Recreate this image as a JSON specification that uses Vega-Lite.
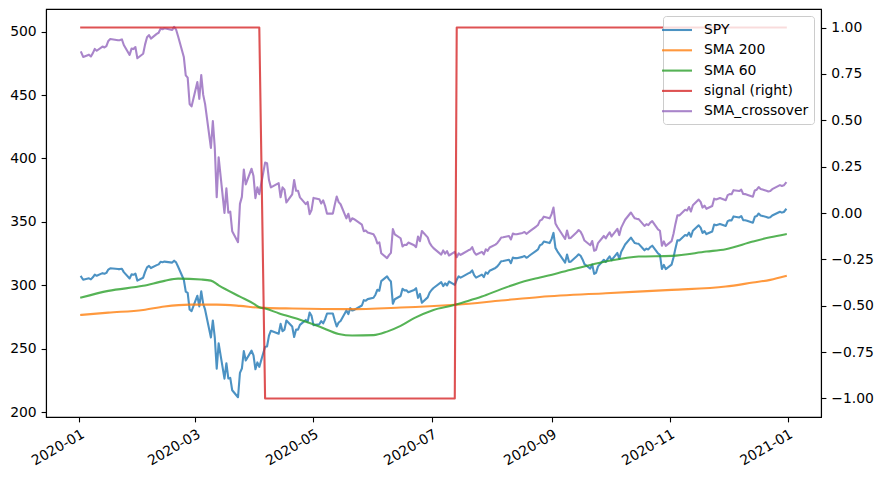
{
  "$schema": "https://vega.github.io/schema/vega-lite/v6.json",
  "width": 775,
  "height": 408,
  "autosize": {"type": "none"},
  "padding": {"left": 46, "top": 9, "right": 62, "bottom": 61},
  "background": "white",
  "config": {
    "view": {"stroke": "black", "strokeWidth": 1.1},
    "font": "DejaVu Sans",
    "axis": {"grid": false, "domainColor": "black", "domainWidth": 1.1, "tickColor": "black", "tickWidth": 1.1, "tickSize": 4.9, "labelFont": "DejaVu Sans", "labelFontSize": 13.9, "labelColor": "black", "labelPadding": 4.9, "title": null},
    "line": {"strokeWidth": 2.1, "opacity": 0.8, "strokeJoin": "round", "strokeCap": "square"}
  },
  "datasets": {
    "spy": [
      {"date":"2020-01-02","spy":306.7,"xover":483.6},{"date":"2020-01-03","spy":304.4,"xover":480.0},{"date":"2020-01-06","spy":305.5,"xover":481.8},{"date":"2020-01-07","spy":304.7,"xover":480.4},{"date":"2020-01-08","spy":306.3,"xover":483.0},{"date":"2020-01-09","spy":308.4,"xover":486.3},{"date":"2020-01-10","spy":307.5,"xover":484.9},{"date":"2020-01-13","spy":309.6,"xover":488.2},{"date":"2020-01-14","spy":309.1,"xover":487.5},{"date":"2020-01-15","spy":309.8,"xover":488.6},{"date":"2020-01-16","spy":312.4,"xover":492.6},{"date":"2020-01-17","spy":313.4,"xover":494.2},{"date":"2020-01-21","spy":312.8,"xover":493.2},{"date":"2020-01-22","spy":312.8,"xover":493.3},{"date":"2020-01-23","spy":313.1,"xover":493.8},{"date":"2020-01-24","spy":310.4,"xover":489.4},{"date":"2020-01-27","spy":305.4,"xover":481.6},{"date":"2020-01-28","spy":308.6,"xover":486.6},{"date":"2020-01-29","spy":308.3,"xover":486.2},{"date":"2020-01-30","spy":309.3,"xover":487.8},{"date":"2020-01-31","spy":303.7,"xover":479.0},
      {"date":"2020-02-03","spy":306.0,"xover":482.5},{"date":"2020-02-04","spy":310.6,"xover":489.9},{"date":"2020-02-05","spy":314.2,"xover":495.5},{"date":"2020-02-06","spy":315.3,"xover":497.2},{"date":"2020-02-07","spy":313.6,"xover":494.5},{"date":"2020-02-10","spy":315.9,"xover":498.2},{"date":"2020-02-11","spy":316.5,"xover":499.1},{"date":"2020-02-12","spy":318.5,"xover":502.3},{"date":"2020-02-13","spy":318.2,"xover":501.8},{"date":"2020-02-14","spy":318.7,"xover":502.6},{"date":"2020-02-18","spy":317.9,"xover":501.3},{"date":"2020-02-19","spy":319.4,"xover":503.7},{"date":"2020-02-20","spy":318.1,"xover":501.6},{"date":"2020-02-21","spy":314.8,"xover":496.5},{"date":"2020-02-24","spy":304.4,"xover":480.0},{"date":"2020-02-25","spy":295.1,"xover":465.5},{"date":"2020-02-26","spy":294.1,"xover":463.7},{"date":"2020-02-27","spy":280.9,"xover":442.9},{"date":"2020-02-28","spy":279.7,"xover":441.0},
      {"date":"2020-03-02","spy":291.8,"xover":460.2},{"date":"2020-03-03","spy":283.4,"xover":447.0},{"date":"2020-03-04","spy":295.3,"xover":465.8},{"date":"2020-03-05","spy":285.5,"xover":450.3},{"date":"2020-03-06","spy":280.8,"xover":442.8},{"date":"2020-03-09","spy":258.9,"xover":408.3},{"date":"2020-03-10","spy":272.3,"xover":429.4},{"date":"2020-03-11","spy":259.0,"xover":408.4},{"date":"2020-03-12","spy":234.2,"xover":369.4},{"date":"2020-03-13","spy":254.2,"xover":400.9},{"date":"2020-03-16","spy":226.4,"xover":357.1},{"date":"2020-03-17","spy":238.6,"xover":376.4},{"date":"2020-03-18","spy":226.6,"xover":357.3},{"date":"2020-03-19","spy":227.0,"xover":358.1},{"date":"2020-03-20","spy":217.3,"xover":342.7},{"date":"2020-03-23","spy":211.8,"xover":334.0},{"date":"2020-03-24","spy":231.0,"xover":364.2},{"date":"2020-03-25","spy":234.4,"xover":369.7},{"date":"2020-03-26","spy":248.1,"xover":391.3},{"date":"2020-03-27","spy":240.7,"xover":379.6},{"date":"2020-03-30","spy":248.5,"xover":391.9},{"date":"2020-03-31","spy":244.8,"xover":386.1},
      {"date":"2020-04-01","spy":233.8,"xover":368.7},{"date":"2020-04-02","spy":239.2,"xover":377.2},{"date":"2020-04-03","spy":235.7,"xover":371.8},{"date":"2020-04-06","spy":251.6,"xover":396.7},{"date":"2020-04-07","spy":251.8,"xover":396.3},{"date":"2020-04-08","spy":260.3,"xover":383.0},{"date":"2020-04-09","spy":264.2,"xover":377.2},{"date":"2020-04-13","spy":261.8,"xover":380.6},{"date":"2020-04-14","spy":269.6,"xover":369.4},{"date":"2020-04-15","spy":263.8,"xover":377.2},{"date":"2020-04-16","spy":265.1,"xover":375.4},{"date":"2020-04-17","spy":272.3,"xover":365.3},{"date":"2020-04-20","spy":267.5,"xover":371.7},{"date":"2020-04-21","spy":259.3,"xover":383.0},{"date":"2020-04-22","spy":265.1,"xover":374.5},{"date":"2020-04-23","spy":265.1,"xover":374.5},{"date":"2020-04-24","spy":268.8,"xover":369.3},{"date":"2020-04-27","spy":272.7,"xover":364.0},{"date":"2020-04-28","spy":271.4,"xover":365.7},{"date":"2020-04-29","spy":278.5,"xover":356.1},{"date":"2020-04-30","spy":275.9,"xover":359.4},
      {"date":"2020-05-01","spy":268.6,"xover":368.9},{"date":"2020-05-04","spy":269.3,"xover":367.9},{"date":"2020-05-05","spy":271.8,"xover":364.5},{"date":"2020-05-06","spy":270.0,"xover":367.0},{"date":"2020-05-07","spy":273.3,"xover":362.5},{"date":"2020-05-08","spy":277.8,"xover":356.5},{"date":"2020-05-11","spy":277.8,"xover":356.5},{"date":"2020-05-12","spy":272.3,"xover":363.6},{"date":"2020-05-13","spy":267.5,"xover":370.0},{"date":"2020-05-14","spy":270.7,"xover":365.6},{"date":"2020-05-15","spy":271.9,"xover":363.9},{"date":"2020-05-18","spy":280.2,"xover":352.8},{"date":"2020-05-19","spy":277.3,"xover":356.4},{"date":"2020-05-20","spy":282.0,"xover":350.4},{"date":"2020-05-21","spy":280.1,"xover":352.8},{"date":"2020-05-22","spy":280.6,"xover":352.1},{"date":"2020-05-26","spy":284.1,"xover":347.8},{"date":"2020-05-27","spy":288.3,"xover":342.6},{"date":"2020-05-28","spy":287.8,"xover":343.2},{"date":"2020-05-29","spy":289.1,"xover":341.7},
      {"date":"2020-06-01","spy":290.2,"xover":340.3},{"date":"2020-06-02","spy":292.6,"xover":337.5},{"date":"2020-06-03","spy":296.5,"xover":333.0},{"date":"2020-06-04","spy":295.7,"xover":333.9},{"date":"2020-06-05","spy":303.3,"xover":325.3},{"date":"2020-06-08","spy":307.0,"xover":321.4},{"date":"2020-06-09","spy":304.7,"xover":323.8},{"date":"2020-06-10","spy":303.0,"xover":325.6},{"date":"2020-06-11","spy":285.5,"xover":344.4},{"date":"2020-06-12","spy":289.0,"xover":340.2},{"date":"2020-06-15","spy":291.6,"xover":337.1},{"date":"2020-06-16","spy":297.3,"xover":330.6},{"date":"2020-06-17","spy":296.0,"xover":332.0},{"date":"2020-06-18","spy":296.1,"xover":331.8},{"date":"2020-06-19","spy":294.5,"xover":333.7},{"date":"2020-06-22","spy":296.3,"xover":331.6},{"date":"2020-06-23","spy":297.7,"xover":330.1},{"date":"2020-06-24","spy":290.1,"xover":338.5},{"date":"2020-06-25","spy":293.2,"xover":334.8},{"date":"2020-06-26","spy":286.3,"xover":342.8},{"date":"2020-06-29","spy":290.5,"xover":337.8},{"date":"2020-06-30","spy":294.2,"xover":333.4},
      {"date":"2020-07-01","spy":296.3,"xover":331.1},{"date":"2020-07-02","spy":297.9,"xover":329.3},{"date":"2020-07-06","spy":302.5,"xover":324.2},{"date":"2020-07-07","spy":299.4,"xover":327.5},{"date":"2020-07-08","spy":301.6,"xover":325.0},{"date":"2020-07-09","spy":299.9,"xover":326.9},{"date":"2020-07-10","spy":303.0,"xover":323.5},{"date":"2020-07-13","spy":300.4,"xover":326.3},{"date":"2020-07-14","spy":304.3,"xover":322.1},{"date":"2020-07-15","spy":307.1,"xover":325.1},{"date":"2020-07-16","spy":306.1,"xover":324.0},{"date":"2020-07-17","spy":306.9,"xover":324.9},{"date":"2020-07-20","spy":309.4,"xover":327.6},{"date":"2020-07-21","spy":310.1,"xover":328.2},{"date":"2020-07-22","spy":311.8,"xover":330.1},{"date":"2020-07-23","spy":308.1,"xover":326.2},{"date":"2020-07-24","spy":306.1,"xover":324.1},{"date":"2020-07-27","spy":308.4,"xover":326.4},{"date":"2020-07-28","spy":306.4,"xover":324.4},{"date":"2020-07-29","spy":310.2,"xover":328.4},{"date":"2020-07-30","spy":309.1,"xover":327.2},{"date":"2020-07-31","spy":311.5,"xover":329.8},
      {"date":"2020-08-03","spy":313.7,"xover":332.1},{"date":"2020-08-04","spy":314.9,"xover":333.4},{"date":"2020-08-05","spy":316.9,"xover":335.4},{"date":"2020-08-06","spy":319.0,"xover":337.7},{"date":"2020-08-07","spy":319.2,"xover":337.9},{"date":"2020-08-10","spy":320.2,"xover":338.9},{"date":"2020-08-11","spy":317.5,"xover":336.1},{"date":"2020-08-12","spy":321.9,"xover":340.8},{"date":"2020-08-13","spy":321.4,"xover":340.2},{"date":"2020-08-14","spy":321.4,"xover":340.2},{"date":"2020-08-17","spy":322.4,"xover":341.3},{"date":"2020-08-18","spy":323.1,"xover":342.0},{"date":"2020-08-19","spy":321.7,"xover":340.6},{"date":"2020-08-20","spy":322.7,"xover":341.7},{"date":"2020-08-21","spy":323.9,"xover":342.9},{"date":"2020-08-24","spy":327.2,"xover":346.3},{"date":"2020-08-25","spy":328.3,"xover":347.6},{"date":"2020-08-26","spy":331.6,"xover":351.0},{"date":"2020-08-27","spy":332.3,"xover":351.8},{"date":"2020-08-28","spy":334.5,"xover":354.1},{"date":"2020-08-31","spy":333.3,"xover":352.8},
      {"date":"2020-09-01","spy":336.4,"xover":356.1},{"date":"2020-09-02","spy":341.3,"xover":361.3},{"date":"2020-09-03","spy":329.5,"xover":348.8},{"date":"2020-09-04","spy":326.8,"xover":346.0},{"date":"2020-09-08","spy":317.9,"xover":336.5},{"date":"2020-09-09","spy":324.2,"xover":343.2},{"date":"2020-09-10","spy":318.5,"xover":337.2},{"date":"2020-09-11","spy":318.7,"xover":337.4},{"date":"2020-09-14","spy":322.9,"xover":341.8},{"date":"2020-09-15","spy":324.5,"xover":343.6},{"date":"2020-09-16","spy":323.3,"xover":342.2},{"date":"2020-09-17","spy":320.4,"xover":339.2},{"date":"2020-09-18","spy":316.7,"xover":335.3},{"date":"2020-09-21","spy":313.2,"xover":331.6},{"date":"2020-09-22","spy":316.4,"xover":334.9},{"date":"2020-09-23","spy":309.0,"xover":327.2},{"date":"2020-09-24","spy":309.9,"xover":328.0},{"date":"2020-09-25","spy":314.9,"xover":333.3},{"date":"2020-09-28","spy":320.1,"xover":338.9},{"date":"2020-09-29","spy":318.4,"xover":337.0},{"date":"2020-09-30","spy":320.8,"xover":339.6},
      {"date":"2020-10-01","spy":322.8,"xover":341.8},{"date":"2020-10-02","spy":319.8,"xover":338.5},{"date":"2020-10-05","spy":325.5,"xover":344.5},{"date":"2020-10-06","spy":320.8,"xover":339.6},{"date":"2020-10-07","spy":326.4,"xover":345.5},{"date":"2020-10-08","spy":329.3,"xover":348.6},{"date":"2020-10-09","spy":332.2,"xover":351.7},{"date":"2020-10-12","spy":337.6,"xover":357.4},{"date":"2020-10-13","spy":335.4,"xover":355.0},{"date":"2020-10-14","spy":333.3,"xover":352.8},{"date":"2020-10-15","spy":332.9,"xover":352.4},{"date":"2020-10-16","spy":332.7,"xover":352.2},{"date":"2020-10-19","spy":327.6,"xover":346.8},{"date":"2020-10-20","spy":328.9,"xover":348.2},{"date":"2020-10-21","spy":328.3,"xover":347.5},{"date":"2020-10-22","spy":330.1,"xover":349.4},{"date":"2020-10-23","spy":331.2,"xover":350.6},{"date":"2020-10-26","spy":325.1,"xover":344.1},{"date":"2020-10-27","spy":324.0,"xover":343.0},{"date":"2020-10-28","spy":312.9,"xover":331.2},{"date":"2020-10-29","spy":316.1,"xover":334.6},{"date":"2020-10-30","spy":312.8,"xover":331.1},
      {"date":"2020-11-02","spy":316.3,"xover":334.8},{"date":"2020-11-03","spy":321.9,"xover":340.7},{"date":"2020-11-04","spy":329.1,"xover":348.4},{"date":"2020-11-05","spy":335.5,"xover":355.1},{"date":"2020-11-06","spy":335.4,"xover":355.1},{"date":"2020-11-09","spy":339.6,"xover":359.5},{"date":"2020-11-10","spy":339.1,"xover":359.0},{"date":"2020-11-11","spy":341.6,"xover":361.7},{"date":"2020-11-12","spy":338.3,"xover":358.2},{"date":"2020-11-13","spy":343.0,"xover":363.1},{"date":"2020-11-16","spy":347.3,"xover":367.6},{"date":"2020-11-17","spy":345.4,"xover":365.7},{"date":"2020-11-18","spy":341.3,"xover":361.3},{"date":"2020-11-19","spy":342.7,"xover":362.8},{"date":"2020-11-20","spy":340.4,"xover":360.3},{"date":"2020-11-23","spy":342.4,"xover":362.5},{"date":"2020-11-24","spy":347.9,"xover":368.3},{"date":"2020-11-25","spy":347.4,"xover":367.7},{"date":"2020-11-27","spy":348.4,"xover":368.8},{"date":"2020-11-30","spy":346.8,"xover":367.1},
      {"date":"2020-12-01","spy":350.6,"xover":371.1},{"date":"2020-12-02","spy":351.3,"xover":371.9},{"date":"2020-12-03","spy":351.2,"xover":371.8},{"date":"2020-12-04","spy":354.3,"xover":375.0},{"date":"2020-12-07","spy":353.5,"xover":374.3},{"date":"2020-12-08","spy":354.6,"xover":375.4},{"date":"2020-12-09","spy":351.4,"xover":372.0},{"date":"2020-12-10","spy":351.3,"xover":371.9},{"date":"2020-12-11","spy":350.9,"xover":371.4},{"date":"2020-12-14","spy":349.3,"xover":369.8},{"date":"2020-12-15","spy":354.0,"xover":374.8},{"date":"2020-12-16","spy":354.6,"xover":375.4},{"date":"2020-12-17","spy":356.6,"xover":377.5},{"date":"2020-12-18","spy":355.1,"xover":376.0},{"date":"2020-12-21","spy":353.9,"xover":374.6},{"date":"2020-12-22","spy":353.3,"xover":374.0},{"date":"2020-12-23","spy":353.6,"xover":374.3},{"date":"2020-12-24","spy":355.0,"xover":375.8},{"date":"2020-12-28","spy":358.0,"xover":379.0},{"date":"2020-12-29","spy":357.3,"xover":378.3},{"date":"2020-12-30","spy":357.8,"xover":378.8},{"date":"2020-12-31","spy":359.7,"xover":380.7}
    ],
    "sma200": [
      {"date":"2020-01-02","v":276.7},{"date":"2020-01-16","v":278.5},{"date":"2020-02-03","v":280.6},{"date":"2020-02-14","v":283.3},{"date":"2020-02-27","v":284.8},{"date":"2020-03-12","v":284.8},{"date":"2020-03-24","v":283.8},{"date":"2020-04-03","v":282.4},{"date":"2020-04-06","v":282.2},{"date":"2020-04-20","v":281.7},{"date":"2020-05-19","v":281.2},{"date":"2020-06-15","v":282.5},{"date":"2020-07-13","v":284.7},{"date":"2020-07-14","v":284.8},{"date":"2020-08-06","v":288.0},{"date":"2020-08-26","v":290.8},{"date":"2020-09-29","v":293.8},{"date":"2020-11-02","v":296.4},{"date":"2020-11-30","v":299.0},{"date":"2020-12-14","v":302.2},{"date":"2020-12-23","v":304.3},{"date":"2020-12-31","v":307.3}
    ],
    "sma60": [
      {"date":"2020-01-02","v":290.4},{"date":"2020-01-16","v":295.6},{"date":"2020-02-03","v":299.6},{"date":"2020-02-14","v":303.5},{"date":"2020-02-21","v":305.3},{"date":"2020-03-04","v":304.6},{"date":"2020-03-09","v":303.7},{"date":"2020-03-13","v":300.0},{"date":"2020-03-24","v":291.1},{"date":"2020-03-31","v":285.6},{"date":"2020-04-03","v":282.7},{"date":"2020-04-06","v":281.7},{"date":"2020-04-13","v":278.0},{"date":"2020-04-24","v":272.8},{"date":"2020-05-04","v":267.5},{"date":"2020-05-14","v":261.7},{"date":"2020-05-21","v":260.4},{"date":"2020-06-01","v":260.7},{"date":"2020-06-08","v":263.5},{"date":"2020-06-15","v":268.0},{"date":"2020-06-22","v":274.1},{"date":"2020-07-02","v":280.6},{"date":"2020-07-13","v":284.6},{"date":"2020-07-14","v":285.1},{"date":"2020-07-27","v":291.1},{"date":"2020-08-06","v":297.0},{"date":"2020-08-20","v":304.0},{"date":"2020-08-26","v":306.1},{"date":"2020-09-11","v":312.2},{"date":"2020-09-29","v":318.7},{"date":"2020-10-16","v":322.7},{"date":"2020-11-02","v":323.2},{"date":"2020-11-20","v":326.6},{"date":"2020-11-30","v":328.5},{"date":"2020-12-14","v":334.5},{"date":"2020-12-23","v":337.9},{"date":"2020-12-31","v":340.3}
    ],
    "signal": [
      {"date":"2020-01-02","signal":1},{"date":"2020-04-03","signal":1},{"date":"2020-04-06","signal":-1},{"date":"2020-07-13","signal":-1},{"date":"2020-07-14","signal":1},{"date":"2020-12-31","signal":1}
    ]
  },
  "layer": [
    {
      "layer": [
        {
          "data": {"name": "spy"},
          "mark": {"type": "line"},
          "encoding": {
            "x": {"field": "date", "type": "temporal", "scale": {"type": "utc", "domain": [1576350720000, 1610945280000]}, "axis": {"values": [1577836800000, 1583020800000, 1588291200000, 1593561600000, 1598918400000, 1604188800000, 1609459200000], "labelExpr": "utcFormat(datum.value, '%Y-%m')", "labelAngle": -30, "labelAlign": "right", "labelBaseline": "top"}},
            "y": {"field": "spy", "type": "quantitative", "scale": {"domain": [196.2, 517.8], "nice": false, "zero": false}, "axis": {"values": [200, 250, 300, 350, 400, 450, 500]}},
            "color": {
              "datum": "SPY", "type": "nominal",
              "scale": {"domain": ["SPY", "SMA 200", "SMA 60", "signal (right)", "SMA_crossover"], "range": ["#1f77b4", "#ff7f0e", "#2ca02c", "#d62728", "#9467bd"]},
              "legend": {"title": null, "orient": "top-right", "offset": 7, "symbolType": "M-2,0H2", "symbolSize": 225, "symbolStrokeWidth": 2.1, "symbolOpacity": 0.8, "labelFontSize": 13.9, "labelFont": "DejaVu Sans", "labelColor": "black", "labelOffset": 18, "rowPadding": 4.3, "padding": 5, "fillColor": "rgba(255,255,255,0.8)", "strokeColor": "#cccccc", "cornerRadius": 3, "labelLimit": 300}
            }
          }
        },
        {
          "data": {"name": "sma200"},
          "mark": {"type": "line", "interpolate": "monotone"},
          "encoding": {
            "x": {"field": "date", "type": "temporal", "scale": {"type": "utc", "domain": [1576350720000, 1610945280000]}},
            "y": {"field": "v", "type": "quantitative"},
            "color": {"datum": "SMA 200", "type": "nominal"}
          }
        },
        {
          "data": {"name": "sma60"},
          "mark": {"type": "line", "interpolate": "monotone"},
          "encoding": {
            "x": {"field": "date", "type": "temporal", "scale": {"type": "utc", "domain": [1576350720000, 1610945280000]}},
            "y": {"field": "v", "type": "quantitative"},
            "color": {"datum": "SMA 60", "type": "nominal"}
          }
        },
        {
          "data": {"name": "spy"},
          "mark": {"type": "line"},
          "encoding": {
            "x": {"field": "date", "type": "temporal", "scale": {"type": "utc", "domain": [1576350720000, 1610945280000]}},
            "y": {"field": "xover", "type": "quantitative"},
            "color": {"datum": "SMA_crossover", "type": "nominal"}
          }
        }
      ]
    },
    {
      "data": {"name": "signal"},
      "mark": {"type": "line"},
      "encoding": {
        "x": {"field": "date", "type": "temporal", "scale": {"type": "utc", "domain": [1576350720000, 1610945280000]}},
        "y": {"field": "signal", "type": "quantitative", "scale": {"domain": [-1.1, 1.1], "nice": false, "zero": false}, "axis": {"orient": "right", "values": [-1, -0.75, -0.5, -0.25, 0, 0.25, 0.5, 0.75, 1], "format": ".2f"}},
        "color": {"datum": "signal (right)", "type": "nominal"}
      }
    }
  ],
  "resolve": {"scale": {"y": "independent"}}
}
